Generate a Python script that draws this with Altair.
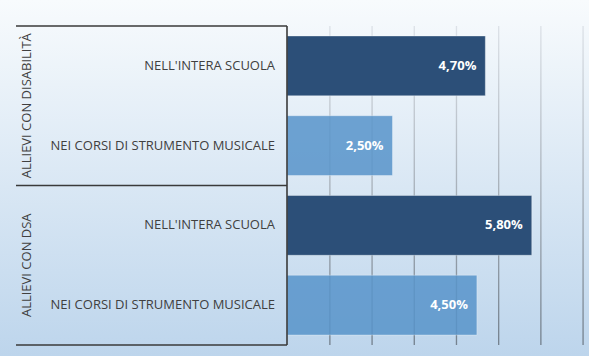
import altair as alt
import pandas as pd

# Survey shares: pupils with disability / with DSA, whole school vs music courses
groups = ["ALLIEVI CON DISABILITÀ", "ALLIEVI CON DISABILITÀ", "ALLIEVI CON DSA", "ALLIEVI CON DSA"]
subgroups = ["NELL'INTERA SCUOLA", "NEI CORSI DI STRUMENTO MUSICALE",
             "NELL'INTERA SCUOLA", "NEI CORSI DI STRUMENTO MUSICALE"]
kinds = ["scuola", "strumento", "scuola", "strumento"]
values = [4.70, 2.50, 5.80, 4.50]
group_names = ["ALLIEVI CON DISABILITÀ", "ALLIEVI CON DSA"]
grid_ticks = [1, 2, 3, 4, 5, 6, 7]
frame_bounds = [0, 2, 4]

rows = [f"{g} | {s}" for g, s in zip(groups, subgroups)]
labels = [f"{v:.2f}".replace(".", ",") + "%" for v in values]

df = pd.DataFrame({"row": rows, "group": groups, "sub": subgroups,
                   "kind": kinds, "value": values, "label": labels})

FONT = "Open Sans"
W, H = 589, 356

x_scale = alt.Scale(domain=[0, 7], range=[287, 582.4], nice=False, zero=True)
row_scale = alt.Scale(domain=rows, range=[26, 345], paddingInner=0.25, paddingOuter=0.125)
group_scale = alt.Scale(domain=group_names, range=[26, 345], paddingInner=0, paddingOuter=0)
unit_scale = alt.Scale(domain=[0, 4], range=[26, 345], nice=False, zero=False)

def vgrad(top, bottom):
    return alt.Gradient(
        gradient="linear",
        stops=[alt.GradientStop(color=top, offset=0), alt.GradientStop(color=bottom, offset=1)],
        x1=0, x2=0, y1=0, y2=1,
    )

# soft vertical background wash
background = alt.Chart(pd.DataFrame({"k": [0]})).mark_rect(
    fill=vgrad("#F8FBFD", "#BDD5EC")
).encode(
    x=alt.value(0), x2=alt.value("width"), y=alt.value(0), y2=alt.value("height")
)

# vertical gridlines, fading towards the top
grid = alt.Chart(pd.DataFrame({"t": grid_ticks})).transform_calculate(
    t2="datum.t + 0.032"
).mark_rect(fill=vgrad("#DDE2E8", "#75828F")).encode(
    x=alt.X("t:Q", scale=x_scale, axis=None),
    x2="t2:Q",
    y=alt.Y(datum=0, scale=unit_scale, axis=None),
    y2=alt.Y2(datum=4),
)

color_scale = alt.Scale(domain=["scuola", "strumento"], range=["#2C4F78", "#5995CB"])
opacity_scale = alt.Scale(domain=["scuola", "strumento"], range=[1.0, 0.86])

bars = alt.Chart(df).mark_bar(stroke="white", strokeOpacity=0.35, strokeWidth=1).encode(
    x=alt.X("value:Q", scale=x_scale, axis=None),
    y=alt.Y("row:N", scale=row_scale, axis=None, sort=rows),
    color=alt.Color("kind:N", scale=color_scale, legend=None),
    opacity=alt.Opacity("kind:N", scale=opacity_scale, legend=None),
)

bar_labels = alt.Chart(df).mark_text(
    align="right", baseline="middle", dx=-9, color="white",
    font=FONT, fontWeight="bold", fontSize=13
).encode(
    x=alt.X("value:Q", scale=x_scale, axis=None),
    y=alt.Y("row:N", scale=row_scale, axis=None, sort=rows),
    text="label:N",
)

sub_labels = alt.Chart(df).mark_text(
    align="right", baseline="middle", dx=-12, color="#404040", font=FONT, fontSize=13
).encode(
    x=alt.X(datum=0, scale=x_scale, axis=None),
    y=alt.Y("row:N", scale=row_scale, axis=None, sort=rows),
    text="sub:N",
)

group_labels = alt.Chart(pd.DataFrame({"group": group_names})).mark_text(
    angle=270, align="center", baseline="middle", color="#404040", font=FONT, fontSize=13
).encode(
    x=alt.value(27),
    y=alt.Y("group:N", scale=group_scale, axis=None, sort=group_names),
    text="group:N",
)

# category box: separators between groups and the value axis line
h_rules = alt.Chart(pd.DataFrame({"b": frame_bounds})).mark_rule(
    color="#3A3A3A", strokeWidth=1.6
).encode(
    x=alt.X(datum=0, scale=x_scale, axis=None),
    x2=alt.value(16),
    y=alt.Y("b:Q", scale=unit_scale, axis=None),
)

v_rule = alt.Chart(pd.DataFrame({"k": [0]})).mark_rule(
    color="#3A3A3A", strokeWidth=1.6
).encode(
    x=alt.X(datum=0, scale=x_scale, axis=None),
    y=alt.Y(datum=0, scale=unit_scale, axis=None),
    y2=alt.Y2(datum=4),
)

chart = alt.layer(
    background, grid, bars, bar_labels, sub_labels, group_labels, h_rules, v_rule
).resolve_scale(
    y="independent"
).properties(
    width=W, height=H, padding=0,
    autosize=alt.AutoSizeParams(type="none"),
).configure_view(stroke=None)

chart.save("out.html", embed_options={"renderer": "svg", "actions": False})
